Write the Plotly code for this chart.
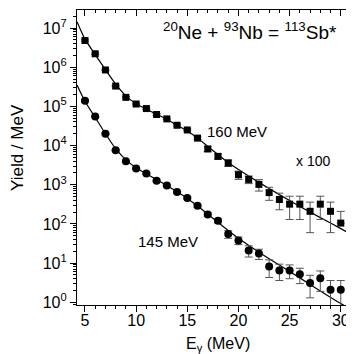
import plotly.graph_objects as go

# photon energies (MeV)
e_gamma = [5, 6, 7, 8, 9, 10, 11, 12, 13, 14, 15, 16, 17, 18, 19, 20,
           21, 22, 23, 24, 25, 26, 27, 28, 29, 30, 31]

# 160 MeV data (x 100)
y160 = [4.8e6, 2.2e6, 8.5e5, 3.3e5, 1.7e5, 1.15e5, 8.8e4, 6.2e4, 4.8e4, 3.3e4,
        2.5e4, 1.55e4, 8.2e3, 5.3e3, 3.6e3, 1.8e3, 1.37e3, 1.02e3, 630, 420,
        320, 320, 210, 320, 210, 105, 105]
err160_up = [2e5, 9e4, 3.5e4, 1.4e4, 7e3, 5e3, 4e3, 3e3, 2.4e3, 1.8e3,
             1.4e3, 1.1e3, 1200, 800, 680, 430, 300, 330, 230, 190,
             190, 190, 150, 190, 150, 104, 104]
err160_dn = [2e5, 9e4, 3.5e4, 1.4e4, 7e3, 5e3, 4e3, 3e3, 2.4e3, 1.8e3,
             1.4e3, 1.1e3, 1200, 800, 680, 430, 300, 330, 230, 190,
             190, 190, 150, 190, 150, 0, 0]

# 145 MeV data
y145 = [1.4e5, 5.5e4, 2.0e4, 7.6e3, 4.0e3, 2.6e3, 1.95e3, 1.26e3, 960, 650,
        460, 290, 175, 120, 55, 38, 21, 17.5, 8.2, 6.5,
        6.5, 5.2, 3.1, 4.1, 2.1, 2.1, 1.05]
err145_up = [5.6e3, 2.2e3, 800, 300, 160, 110, 80, 55, 45, 33,
             25, 23, 17, 14, 12, 8.4, 6.7, 5.1, 3.9, 2.9,
             2.5, 2.2, 1.8, 2.2, 1.5, 1.5, 1.04]
err145_dn = [5.6e3, 2.2e3, 800, 300, 160, 110, 80, 55, 45, 33,
             25, 23, 17, 14, 12, 8.4, 6.7, 5.1, 3.9, 2.9,
             2.5, 2.2, 1.8, 2.2, 1.5, 1.5, 0.95]

# calculated curves
fit160_x = [4.22, 5, 6, 7, 8, 9, 10, 11, 12, 13, 14, 15, 16, 17, 18, 19, 20,
            22, 24, 26, 28, 30, 31.88]
fit160_y = [1.45e7, 5.2e6, 2.1e6, 8.7e5, 3.7e5, 1.86e5, 1.17e5, 8.5e4, 6.3e4,
            4.7e4, 3.3e4, 2.35e4, 1.55e4, 9.5e3, 5.9e3, 3.7e3, 2.45e3,
            1.15e3, 560, 280, 145, 76, 40]
fit145_x = [4.22, 5, 6, 7, 8, 9, 10, 11, 12, 13, 14, 15, 16, 17, 18, 19, 20,
            22, 24, 26, 28, 30, 30.6]
fit145_y = [3.5e5, 1.35e5, 5.2e4, 2.0e4, 8.3e3, 4.3e3, 2.7e3, 1.9e3, 1.35e3,
            955, 660, 447, 288, 178, 110, 68, 43, 19, 8.9, 4.2, 1.95, 0.93, 0.76]

ytick_vals = [1, 10, 100, 1e3, 1e4, 1e5, 1e6, 1e7]
ytick_text = ['10<sup>%d</sup>' % i for i in range(8)]
xtick_vals = [5, 10, 15, 20, 25, 30]

FONT = 'Liberation Sans, Arial, sans-serif'
minor_y = [m * 10 ** p for p in range(-1, 8) for m in range(2, 10)]

fig = go.Figure()

err_style = dict(type='data', symmetric=False, color='#555555', thickness=1, width=4)

fig.add_trace(go.Scatter(x=fit160_x, y=fit160_y, mode='lines',
                         line=dict(color='black', width=1.2, shape='spline', smoothing=0.6)))
fig.add_trace(go.Scatter(x=fit145_x, y=fit145_y, mode='lines',
                         line=dict(color='black', width=1.2, shape='spline', smoothing=0.6)))
fig.add_trace(go.Scatter(x=e_gamma, y=y160, mode='markers',
                         marker=dict(symbol='square', size=7, color='black'),
                         error_y=dict(array=err160_up, arrayminus=err160_dn, **err_style)))
fig.add_trace(go.Scatter(x=e_gamma, y=y145, mode='markers',
                         marker=dict(symbol='circle', size=8, color='black'),
                         error_y=dict(array=err145_up, arrayminus=err145_dn, **err_style)))
# carrier for the mirrored top/right axes
fig.add_trace(go.Scatter(x=[None], y=[None], xaxis='x2', yaxis='y2', showlegend=False))

xr = [4.22, 31.88]
yr = [-0.069, 7.46]
axis_common = dict(showline=True, linecolor='black', linewidth=1.2, showgrid=False,
                   zeroline=False, tickcolor='black', ticklen=6, automargin=False)

fig.update_layout(
    template='none',
    width=354, height=354,
    margin=dict(l=69, r=1.5, t=2, b=57.3),
    paper_bgcolor='white', plot_bgcolor='white',
    showlegend=False,
    font=dict(family=FONT, color='black'),
    xaxis=dict(range=xr, tickmode='array', tickvals=xtick_vals, ticks='outside',
               tickfont=dict(size=16), ticklabelstandoff=-5,
               minor=dict(dtick=1, ticks='outside', ticklen=3, tickcolor='black'),
               **axis_common),
    xaxis2=dict(range=xr, overlaying='x', side='top', ticks='inside',
                tickmode='array', tickvals=xtick_vals, showticklabels=False,
                minor=dict(dtick=1, ticks='inside', ticklen=3, tickcolor='black'),
                **axis_common),
    yaxis=dict(type='log', range=yr, tickmode='array', tickvals=ytick_vals,
               ticktext=ytick_text, ticks='outside', tickfont=dict(size=16),
               minor=dict(tickmode='array', tickvals=minor_y, ticks='outside',
                          ticklen=3, tickcolor='black'),
               **axis_common),
    yaxis2=dict(type='log', range=yr, overlaying='y', side='right', ticks='inside',
                tickmode='array', tickvals=ytick_vals, showticklabels=False,
                minor=dict(tickmode='array', tickvals=minor_y, ticks='inside',
                           ticklen=3, tickcolor='black'),
                **axis_common),
)

annotations = [
    dict(text='<sup>20</sup>Ne + <sup>93</sup>Nb = <sup>113</sup>Sb*', x=21.15, y=6.93,
         font=dict(size=19)),
    dict(text='160 MeV', x=19.83, y=4.35, font=dict(size=15)),
    dict(text='x 100', x=27.24, y=3.61, font=dict(size=14)),
    dict(text='145 MeV', x=13.15, y=1.56, font=dict(size=15)),
]
for a in annotations:
    fig.add_annotation(xref='x', yref='y', showarrow=False,
                       xanchor='center', yanchor='middle', **a)

fig.add_annotation(text='E<sub>γ</sub> (MeV)', xref='x', yref='paper', x=17.98, y=-0.134,
                   xanchor='center', yanchor='middle', showarrow=False, font=dict(size=16))
fig.add_annotation(text='Yield / MeV', xref='paper', yref='paper', x=-0.212, y=0.532,
                   xanchor='center', yanchor='middle', textangle=-90, showarrow=False,
                   font=dict(size=17))

fig.write_html("out.html")
